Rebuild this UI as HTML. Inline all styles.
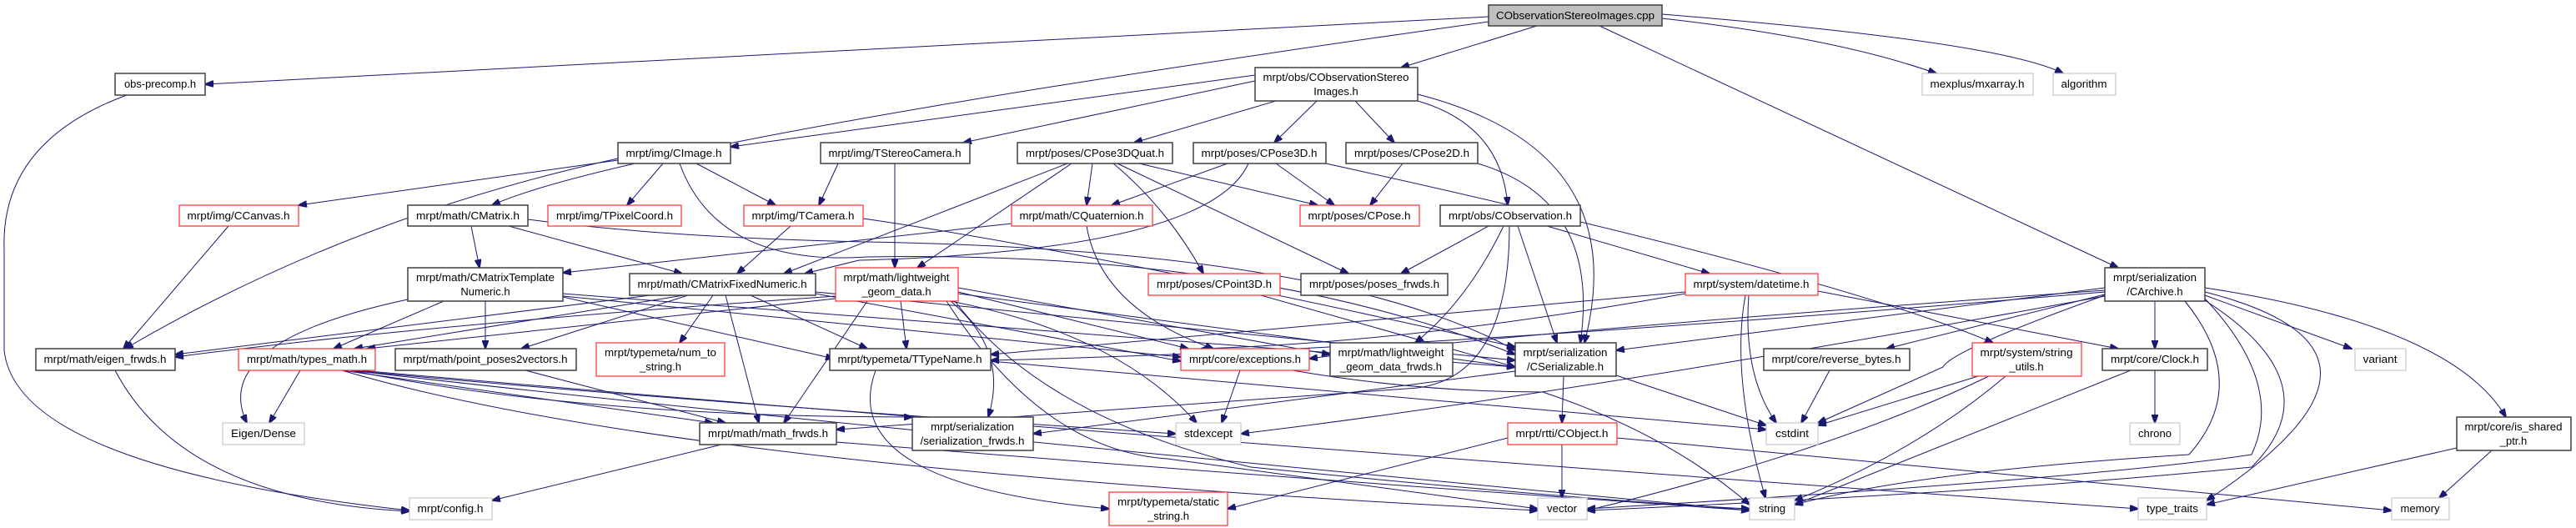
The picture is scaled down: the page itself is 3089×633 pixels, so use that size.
<!DOCTYPE html>
<html><head><meta charset="utf-8"><style>
html,body{margin:0;padding:0;background:#fff;}
svg{display:block;}
.b{fill:#fff;stroke:#404040;stroke-width:1.5}
.r{fill:#fff;stroke:#ff3030;stroke-width:1.2}
.g{fill:#fff;stroke:#c8c8c8;stroke-width:1.2}
text{font-family:"Liberation Sans",sans-serif;font-size:13px;fill:#000;text-anchor:middle}
path{fill:none;stroke:#191970;stroke-width:1}
</style></head><body>
<svg width="3089" height="633" viewBox="0 0 3089 633" xmlns="http://www.w3.org/2000/svg">
<defs><marker id="a" markerWidth="11" markerHeight="8" refX="10" refY="4" orient="auto" markerUnits="userSpaceOnUse"><polygon points="0,0 11,4 0,8" fill="#191970" stroke="#191970"/></marker></defs>
<g marker-end="url(#a)">
<!-- root -->
<path d="M1785,20 L246,101"/>
<path d="M1785,26 Q760,170 590,246"/>
<path d="M1843,31 L1680,81"/>
<path d="M1993,22 Q2200,45 2322,88"/>
<path d="M1993,17 Q2400,50 2474,88"/>
<path d="M1918,31 L2540,321"/>
<!-- CObservationStereoImages.h -->
<path d="M1505,90 L876,176"/>
<path d="M1505,97 L1155,171"/>
<path d="M1530,121 L1360,171"/>
<path d="M1579,121 L1528,171"/>
<path d="M1625,121 L1672,171"/>
<path d="M1700,121 Q1800,150 1808,246"/>
<path d="M1700,113 Q1960,180 1900,411"/>
<!-- CImage -->
<path d="M741,192 L358,246"/>
<path d="M741,190 Q420,260 150,418"/>
<path d="M795,196 L752,246"/>
<path d="M835,196 L930,246"/>
<path d="M815,196 Q860,320 1040,308 Q1500,300 1817,425"/>
<!-- TStereoCamera -->
<path d="M1005,196 L982,246"/>
<path d="M1073,196 L1073,321"/>
<!-- CMatrix -->
<path d="M565,271 L575,321"/>
<path d="M610,271 L818,328"/>
<path d="M633,263 Q800,285 1040,290 Q1600,300 1817,420"/>
<!-- TCamera -->
<path d="M948,271 L884,328"/>
<path d="M1035,262 Q1300,300 1817,416"/>
<!-- CCanvas -->
<path d="M274,271 L148,418"/>
<!-- CPose3DQuat -->
<path d="M1280,196 L940,328"/>
<path d="M1285,196 L1100,321"/>
<path d="M1310,196 L1303,246"/>
<path d="M1366,196 L1580,246"/>
<path d="M1335,196 Q1400,250 1443,328"/>
<path d="M1340,196 L1617,328"/>
<!-- CPose3D -->
<path d="M1472,196 L1333,246"/>
<path d="M1530,196 L1600,246"/>
<path d="M1497,196 Q1450,300 1030,312 L965,328"/>
<path d="M1590,196 Q2200,330 2390,411"/>
<!-- CPose2D -->
<path d="M1682,196 L1643,246"/>
<path d="M1772,196 Q1920,240 1895,411"/>
<!-- CQuaternion -->
<path d="M1303,271 Q1320,370 1455,418"/>
<path d="M1213,268 L675,327"/>
<!-- CObservation -->
<path d="M1785,271 L1680,328"/>
<path d="M1803,271 Q1760,360 1697,411"/>
<path d="M1820,271 L1867,411"/>
<path d="M1855,271 L2050,328"/>
<path d="M1810,271 Q1810,450 1700,465 Q1200,500 1003,515"/>
<!-- CPoint3D -->
<path d="M1512,354 L1817,440"/>
<!-- datetime -->
<path d="M2021,350 L1188,425"/>
<path d="M2097,354 Q2090,450 2130,507"/>
<path d="M2093,354 Q2075,450 2117,597"/>
<path d="M2180,349 L2540,418"/>
<!-- CArchive -->
<path d="M2524,345 L1938,420"/>
<path d="M2524,348 Q1800,400 1570,430"/>
<path d="M2524,350 Q1700,420 1188,432"/>
<path d="M2524,355 Q1900,470 1488,520"/>
<path d="M2524,353 L2262,418"/>
<path d="M2524,354 Q2340,420 2330,440 L2180,507"/>
<path d="M2584,361 L2584,418"/>
<path d="M2644,354 L2820,418"/>
<path d="M2644,345 Q2940,390 3005,500"/>
<path d="M2644,350 Q2920,420 2646,600"/>
<path d="M2620,361 Q2700,460 2625,545 Q2300,565 2152,605"/>
<path d="M2644,358 Q2740,460 2700,545 Q2500,575 1903,610"/>
<path d="M2644,360 Q2800,460 2700,560 Q2400,590 1903,612"/>
<!-- CMatrixTemplateNumeric -->
<path d="M489,359 Q250,410 296,507"/>
<path d="M532,361 L400,418"/>
<path d="M582,361 L582,418"/>
<path d="M675,356 L1000,430"/>
<path d="M675,355 L1416,428"/>
<path d="M675,352 Q1300,400 1817,440"/>
<!-- CMatrixFixedNumeric -->
<path d="M780,354 L210,425"/>
<path d="M820,354 L425,418"/>
<path d="M825,354 L625,418"/>
<path d="M855,354 L815,411"/>
<path d="M870,354 L910,507"/>
<path d="M900,354 L1040,418"/>
<path d="M978,350 L1817,432"/>
<path d="M978,352 L1416,433"/>
<!-- lightweight_geom_data -->
<path d="M1002,355 Q500,390 210,428"/>
<path d="M1002,358 L440,418"/>
<path d="M1080,361 L1087,418"/>
<path d="M1149,350 L1425,418"/>
<path d="M1140,361 Q1210,420 1185,500"/>
<path d="M1140,361 Q1340,400 1435,507"/>
<path d="M1135,361 Q1250,540 1400,550 Q1700,590 1844,610"/>
<path d="M1040,361 L940,507"/>
<path d="M1149,345 L1595,425"/>
<path d="M1149,352 L1817,440"/>
<path d="M1145,361 Q1250,500 1500,560 Q1900,600 2098,610"/>
<!-- types_math -->
<path d="M360,444 L323,507"/>
<path d="M410,444 L855,507"/>
<path d="M420,444 Q700,500 1094,500"/>
<path d="M420,444 Q800,480 1410,520"/>
<path d="M410,444 Q800,560 1844,612"/>
<path d="M420,444 Q900,500 2098,612"/>
<path d="M430,444 Q1300,520 2564,610"/>
<!-- misc -->
<path d="M630,444 L870,507"/>
<path d="M138,444 Q220,600 491,613"/>
<path d="M152,114 Q0,170 5,300 L5,420 Q20,560 491,612"/>
<path d="M865,533 L590,600"/>
<path d="M1003,530 Q1500,570 2098,612"/>
<path d="M1050,444 Q1000,580 1330,610"/>
<path d="M1188,433 L2118,515"/>
<path d="M1487,444 L1465,507"/>
<path d="M1550,444 Q1700,470 1850,470 Q2000,520 2098,605"/>
<path d="M1817,445 L1239,520"/>
<path d="M1875,451 L1873,507"/>
<path d="M1938,450 L2118,510"/>
<path d="M1873,533 L1873,597"/>
<path d="M1808,525 L1472,610"/>
<path d="M1939,525 L2868,612"/>
<path d="M2194,444 L2160,507"/>
<path d="M2372,451 L2180,510"/>
<path d="M2405,451 Q2300,540 2152,600"/>
<path d="M2385,451 Q2200,540 1903,612"/>
<path d="M2584,444 L2584,507"/>
<path d="M2555,444 L2152,605"/>
<path d="M2988,540 L2925,597"/>
<path d="M2946,537 L2646,605"/>
<path d="M2021,352 Q1700,410 1440,418"/>
</g>
<!-- nodes -->
<rect x="1785" y="6" width="208" height="25" fill="#bfbfbf" stroke="#404040" stroke-width="1.5"/><text x="1889" y="23" textLength="190" lengthAdjust="spacingAndGlyphs">CObservationStereoImages.cpp</text>
<rect class="b" x="1505" y="81" width="195" height="40"/><text x="1602" y="97" textLength="175" lengthAdjust="spacingAndGlyphs">mrpt/obs/CObservationStereo</text><text x="1602" y="114">Images.h</text>
<rect class="b" x="138" y="88" width="108" height="26"/><text x="192" y="105" textLength="86" lengthAdjust="spacingAndGlyphs">obs-precomp.h</text>
<rect class="g" x="2305" y="88" width="133" height="26"/><text x="2371" y="105" textLength="113" lengthAdjust="spacingAndGlyphs">mexplus/mxarray.h</text>
<rect class="g" x="2462" y="88" width="75" height="26"/><text x="2499" y="105" textLength="55" lengthAdjust="spacingAndGlyphs">algorithm</text>
<rect class="b" x="741" y="171" width="135" height="25"/><text x="808" y="188" textLength="115" lengthAdjust="spacingAndGlyphs">mrpt/img/CImage.h</text>
<rect class="b" x="984" y="171" width="179" height="25"/><text x="1073" y="188" textLength="159" lengthAdjust="spacingAndGlyphs">mrpt/img/TStereoCamera.h</text>
<rect class="b" x="1220" y="171" width="186" height="25"/><text x="1313" y="188" textLength="166" lengthAdjust="spacingAndGlyphs">mrpt/poses/CPose3DQuat.h</text>
<rect class="b" x="1431" y="171" width="159" height="25"/><text x="1510" y="188" textLength="139" lengthAdjust="spacingAndGlyphs">mrpt/poses/CPose3D.h</text>
<rect class="b" x="1614" y="171" width="158" height="25"/><text x="1693" y="188" textLength="138" lengthAdjust="spacingAndGlyphs">mrpt/poses/CPose2D.h</text>
<rect class="r" x="215" y="246" width="143" height="25"/><text x="286" y="263" textLength="123" lengthAdjust="spacingAndGlyphs">mrpt/img/CCanvas.h</text>
<rect class="b" x="489" y="246" width="144" height="25"/><text x="561" y="263" textLength="124" lengthAdjust="spacingAndGlyphs">mrpt/math/CMatrix.h</text>
<rect class="r" x="657" y="246" width="160" height="25"/><text x="737" y="263" textLength="140" lengthAdjust="spacingAndGlyphs">mrpt/img/TPixelCoord.h</text>
<rect class="r" x="892" y="246" width="143" height="25"/><text x="963" y="263" textLength="123" lengthAdjust="spacingAndGlyphs">mrpt/img/TCamera.h</text>
<rect class="r" x="1213" y="246" width="169" height="25"/><text x="1297" y="263" textLength="149" lengthAdjust="spacingAndGlyphs">mrpt/math/CQuaternion.h</text>
<rect class="r" x="1559" y="246" width="143" height="25"/><text x="1630" y="263" textLength="123" lengthAdjust="spacingAndGlyphs">mrpt/poses/CPose.h</text>
<rect class="b" x="1727" y="246" width="168" height="25"/><text x="1811" y="263" textLength="148" lengthAdjust="spacingAndGlyphs">mrpt/obs/CObservation.h</text>
<rect class="b" x="489" y="321" width="186" height="40"/><text x="582" y="337" textLength="166" lengthAdjust="spacingAndGlyphs">mrpt/math/CMatrixTemplate</text><text x="582" y="354">Numeric.h</text>
<rect class="b" x="755" y="328" width="223" height="26"/><text x="866" y="345" textLength="203" lengthAdjust="spacingAndGlyphs">mrpt/math/CMatrixFixedNumeric.h</text>
<rect class="r" x="1002" y="321" width="147" height="40"/><text x="1075" y="337" textLength="127" lengthAdjust="spacingAndGlyphs">mrpt/math/lightweight</text><text x="1075" y="354">_geom_data.h</text>
<rect class="r" x="1377" y="328" width="158" height="26"/><text x="1456" y="345" textLength="138" lengthAdjust="spacingAndGlyphs">mrpt/poses/CPoint3D.h</text>
<rect class="b" x="1560" y="328" width="176" height="26"/><text x="1648" y="345" textLength="156" lengthAdjust="spacingAndGlyphs">mrpt/poses/poses_frwds.h</text>
<rect class="r" x="2021" y="328" width="159" height="26"/><text x="2100" y="345" textLength="139" lengthAdjust="spacingAndGlyphs">mrpt/system/datetime.h</text>
<rect class="b" x="2524" y="321" width="120" height="40"/><text x="2584" y="337" textLength="100" lengthAdjust="spacingAndGlyphs">mrpt/serialization</text><text x="2584" y="354">/CArchive.h</text>
<rect class="b" x="43" y="418" width="167" height="26"/><text x="126" y="435" textLength="147" lengthAdjust="spacingAndGlyphs">mrpt/math/eigen_frwds.h</text>
<rect class="r" x="286" y="418" width="164" height="26"/><text x="368" y="435" textLength="144" lengthAdjust="spacingAndGlyphs">mrpt/math/types_math.h</text>
<rect class="b" x="474" y="418" width="217" height="26"/><text x="582" y="435" textLength="197" lengthAdjust="spacingAndGlyphs">mrpt/math/point_poses2vectors.h</text>
<rect class="r" x="715" y="411" width="154" height="40"/><text x="792" y="427" textLength="134" lengthAdjust="spacingAndGlyphs">mrpt/typemeta/num_to</text><text x="792" y="444">_string.h</text>
<rect class="b" x="995" y="418" width="193" height="26"/><text x="1091" y="435" textLength="173" lengthAdjust="spacingAndGlyphs">mrpt/typemeta/TTypeName.h</text>
<rect class="r" x="1416" y="418" width="154" height="26"/><text x="1493" y="435" textLength="134" lengthAdjust="spacingAndGlyphs">mrpt/core/exceptions.h</text>
<rect class="b" x="1595" y="411" width="147" height="40"/><text x="1668" y="427" textLength="127" lengthAdjust="spacingAndGlyphs">mrpt/math/lightweight</text><text x="1668" y="444" textLength="122" lengthAdjust="spacingAndGlyphs">_geom_data_frwds.h</text>
<rect class="b" x="1817" y="411" width="121" height="40"/><text x="1877" y="427" textLength="101" lengthAdjust="spacingAndGlyphs">mrpt/serialization</text><text x="1877" y="444" textLength="92" lengthAdjust="spacingAndGlyphs">/CSerializable.h</text>
<rect class="b" x="2115" y="418" width="175" height="26"/><text x="2202" y="435" textLength="155" lengthAdjust="spacingAndGlyphs">mrpt/core/reverse_bytes.h</text>
<rect class="r" x="2365" y="411" width="131" height="40"/><text x="2430" y="427" textLength="111" lengthAdjust="spacingAndGlyphs">mrpt/system/string</text><text x="2430" y="444">_utils.h</text>
<rect class="b" x="2521" y="418" width="126" height="26"/><text x="2584" y="435" textLength="106" lengthAdjust="spacingAndGlyphs">mrpt/core/Clock.h</text>
<rect class="g" x="2824" y="418" width="61" height="26"/><text x="2854" y="435" textLength="41" lengthAdjust="spacingAndGlyphs">variant</text>
<rect class="g" x="267" y="507" width="98" height="26"/><text x="316" y="524" textLength="78" lengthAdjust="spacingAndGlyphs">Eigen/Dense</text>
<rect class="b" x="839" y="507" width="164" height="26"/><text x="921" y="524" textLength="144" lengthAdjust="spacingAndGlyphs">mrpt/math/math_frwds.h</text>
<rect class="b" x="1094" y="500" width="145" height="40"/><text x="1166" y="516" textLength="100" lengthAdjust="spacingAndGlyphs">mrpt/serialization</text><text x="1166" y="533" textLength="125" lengthAdjust="spacingAndGlyphs">/serialization_frwds.h</text>
<rect class="g" x="1410" y="507" width="78" height="26"/><text x="1449" y="524" textLength="58" lengthAdjust="spacingAndGlyphs">stdexcept</text>
<rect class="r" x="1808" y="507" width="131" height="26"/><text x="1873" y="524" textLength="111" lengthAdjust="spacingAndGlyphs">mrpt/rtti/CObject.h</text>
<rect class="g" x="2118" y="507" width="62" height="26"/><text x="2149" y="524" textLength="40" lengthAdjust="spacingAndGlyphs">cstdint</text>
<rect class="g" x="2554" y="507" width="60" height="26"/><text x="2584" y="524" textLength="40" lengthAdjust="spacingAndGlyphs">chrono</text>
<rect class="b" x="2946" y="500" width="137" height="40"/><text x="3014" y="516" textLength="117" lengthAdjust="spacingAndGlyphs">mrpt/core/is_shared</text><text x="3014" y="533">_ptr.h</text>
<rect class="g" x="491" y="597" width="99" height="26"/><text x="540" y="614" textLength="79" lengthAdjust="spacingAndGlyphs">mrpt/config.h</text>
<rect class="r" x="1330" y="590" width="142" height="40"/><text x="1401" y="606" textLength="122" lengthAdjust="spacingAndGlyphs">mrpt/typemeta/static</text><text x="1401" y="623">_string.h</text>
<rect class="g" x="1844" y="597" width="59" height="26"/><text x="1873" y="614" textLength="36" lengthAdjust="spacingAndGlyphs">vector</text>
<rect class="g" x="2098" y="597" width="54" height="26"/><text x="2125" y="614" textLength="32" lengthAdjust="spacingAndGlyphs">string</text>
<rect class="g" x="2564" y="597" width="82" height="26"/><text x="2605" y="614" textLength="62" lengthAdjust="spacingAndGlyphs">type_traits</text>
<rect class="g" x="2868" y="597" width="69" height="26"/><text x="2902" y="614" textLength="47" lengthAdjust="spacingAndGlyphs">memory</text>
</svg>
</body></html>
